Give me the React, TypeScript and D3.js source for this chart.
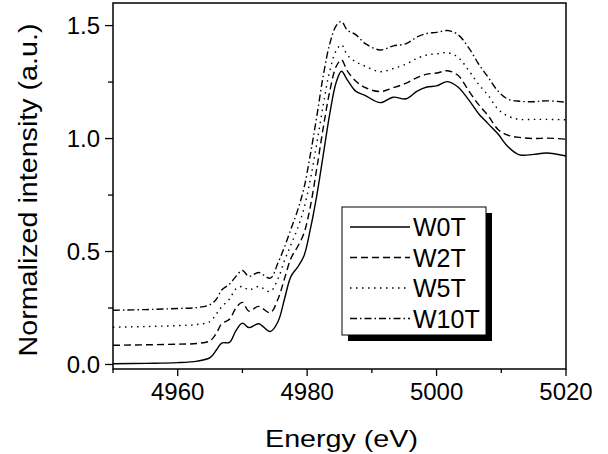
import React from "react";
import * as d3 from "d3";

const energies = [4950, 4955, 4960, 4963, 4965, 4966, 4966.8, 4968, 4969, 4970, 4971, 4972.5, 4974.3, 4975.5, 4976.5, 4977.5, 4978.5, 4979.5, 4980.5, 4981.5, 4982.5, 4983.5, 4984.5, 4985.3, 4986.2, 4987.5, 4989, 4991.3, 4993.3, 4995.3, 4997, 4998.5, 5000, 5001.7, 5003.3, 5005, 5006.5, 5008, 5009.5, 5011, 5012.8, 5015, 5017, 5020];

const w0t = [0.003, 0.005, 0.008, 0.015, 0.03, 0.065, 0.095, 0.098, 0.15, 0.183, 0.163, 0.18, 0.146, 0.19, 0.29, 0.39, 0.43, 0.48, 0.6, 0.75, 0.93, 1.11, 1.25, 1.298, 1.26, 1.21, 1.19, 1.159, 1.183, 1.176, 1.21, 1.228, 1.233, 1.252, 1.228, 1.17, 1.11, 1.065, 1.02, 0.965, 0.928, 0.93, 0.936, 0.923];
const w2t = [0.085, 0.087, 0.09, 0.093, 0.105, 0.14, 0.18, 0.2, 0.25, 0.275, 0.236, 0.257, 0.229, 0.29, 0.38, 0.47, 0.52, 0.58, 0.7, 0.87, 1.05, 1.21, 1.32, 1.348, 1.3, 1.255, 1.225, 1.208, 1.225, 1.245, 1.27, 1.285, 1.29, 1.3, 1.28, 1.21, 1.15, 1.1, 1.04, 1.015, 1.005, 1.0, 1.002, 0.997];
const w5t = [0.165, 0.168, 0.172, 0.177, 0.19, 0.225, 0.255, 0.29, 0.335, 0.345, 0.33, 0.345, 0.323, 0.38, 0.46, 0.53, 0.6, 0.69, 0.82, 0.98, 1.15, 1.3, 1.39, 1.415, 1.37, 1.34, 1.32, 1.296, 1.31, 1.33, 1.355, 1.37, 1.375, 1.38, 1.36, 1.3, 1.24, 1.19, 1.13, 1.1, 1.085, 1.085, 1.085, 1.083];
const w10t = [0.24, 0.243, 0.248, 0.252, 0.265, 0.29, 0.33, 0.355, 0.39, 0.416, 0.39, 0.407, 0.382, 0.45, 0.52, 0.6, 0.68, 0.78, 0.93, 1.1, 1.28, 1.42, 1.5, 1.518, 1.48, 1.46, 1.42, 1.392, 1.41, 1.42, 1.45, 1.465, 1.47, 1.478, 1.46, 1.4, 1.33, 1.27, 1.21, 1.175, 1.165, 1.163, 1.167, 1.161];

const seriesNames = ["W0T", "W2T", "W5T", "W10T"];
const seriesValues = [w0t, w2t, w5t, w10t];
const dashes = ["none", "7,4", "1.5,4.5", "7,3,1.5,3"];

const xTicks = [4960, 4980, 5000, 5020];
const xMinor = [4950, 4970, 4990, 5010];
const yTicks = [0.0, 0.5, 1.0, 1.5];
const yMinor = [0.25, 0.75, 1.25];

const W = 608, H = 454;
const L = 113, R = 566, T = 3, B = 369;
const FONT = "Arial, 'Liberation Sans', sans-serif";

export default function App() {
  const x = d3.scaleLinear().domain([4950, 5020]).range([L, R]);
  const y = d3.scaleLinear().domain([-0.02, 1.6]).range([B, T]);
  const line = d3
    .line<number>()
    .x((_, i) => x(energies[i]))
    .y((d) => y(d))
    .curve(d3.curveCatmullRom.alpha(0.5));

  const lgX = 342, lgY = 207, lgW = 144, lgH = 128;
  const rowY = (i: number) => 227 + i * 30.5;

  return (
    <svg width={W} height={H} style={{ position: "absolute", left: 0, top: 0 }} fontFamily={FONT}>
      <rect x={0} y={0} width={W} height={H} fill="#fff" />
      <defs>
        <clipPath id="plot">
          <rect x={L} y={T} width={R - L} height={B - T} />
        </clipPath>
      </defs>
      <g clipPath="url(#plot)">
        {seriesValues.map((vals, i) => (
          <path key={i} d={line(vals) || ""} fill="none" stroke="#000" strokeWidth={1.4} strokeDasharray={dashes[i]} />
        ))}
      </g>
      <rect x={L} y={T} width={R - L} height={B - T} fill="none" stroke="#000" strokeWidth={1.5} />
      {xTicks.map((t) => (
        <g key={t}>
          <line x1={x(t)} x2={x(t)} y1={B} y2={B + 7} stroke="#000" strokeWidth={1.3} />
          <text x={x(t)} y={400} textAnchor="middle" fontSize={24}>{t}</text>
        </g>
      ))}
      {xMinor.map((t) => (
        <line key={t} x1={x(t)} x2={x(t)} y1={B} y2={B + 4} stroke="#000" strokeWidth={1.3} />
      ))}
      {yTicks.map((t) => (
        <g key={t}>
          <line x1={L - 8} x2={L} y1={y(t)} y2={y(t)} stroke="#000" strokeWidth={1.3} />
          <text x={100} y={y(t)} dy="0.36em" textAnchor="end" fontSize={24}>{t.toFixed(1)}</text>
        </g>
      ))}
      {yMinor.map((t) => (
        <line key={t} x1={L - 5} x2={L} y1={y(t)} y2={y(t)} stroke="#000" strokeWidth={1.3} />
      ))}
      <text x={341.5} y={447} textAnchor="middle" fontSize={24} textLength={153} lengthAdjust="spacingAndGlyphs">Energy (eV)</text>
      <text transform="translate(37,190) rotate(-90)" textAnchor="middle" fontSize={25} textLength={333} lengthAdjust="spacingAndGlyphs">Normalized intensity (a.u.)</text>
      <rect x={lgX + 6} y={lgY + 6} width={lgW} height={lgH} fill="#000" />
      <rect x={lgX} y={lgY} width={lgW} height={lgH} fill="#fff" stroke="#000" strokeWidth={1} />
      {seriesNames.map((n, i) => (
        <g key={n}>
          <line x1={350} x2={410} y1={rowY(i)} y2={rowY(i)} stroke="#000" strokeWidth={1.3} strokeDasharray={dashes[i]} />
          <text x={413} y={rowY(i)} dy="0.36em" fontSize={25}>{n}</text>
        </g>
      ))}
    </svg>
  );
}
